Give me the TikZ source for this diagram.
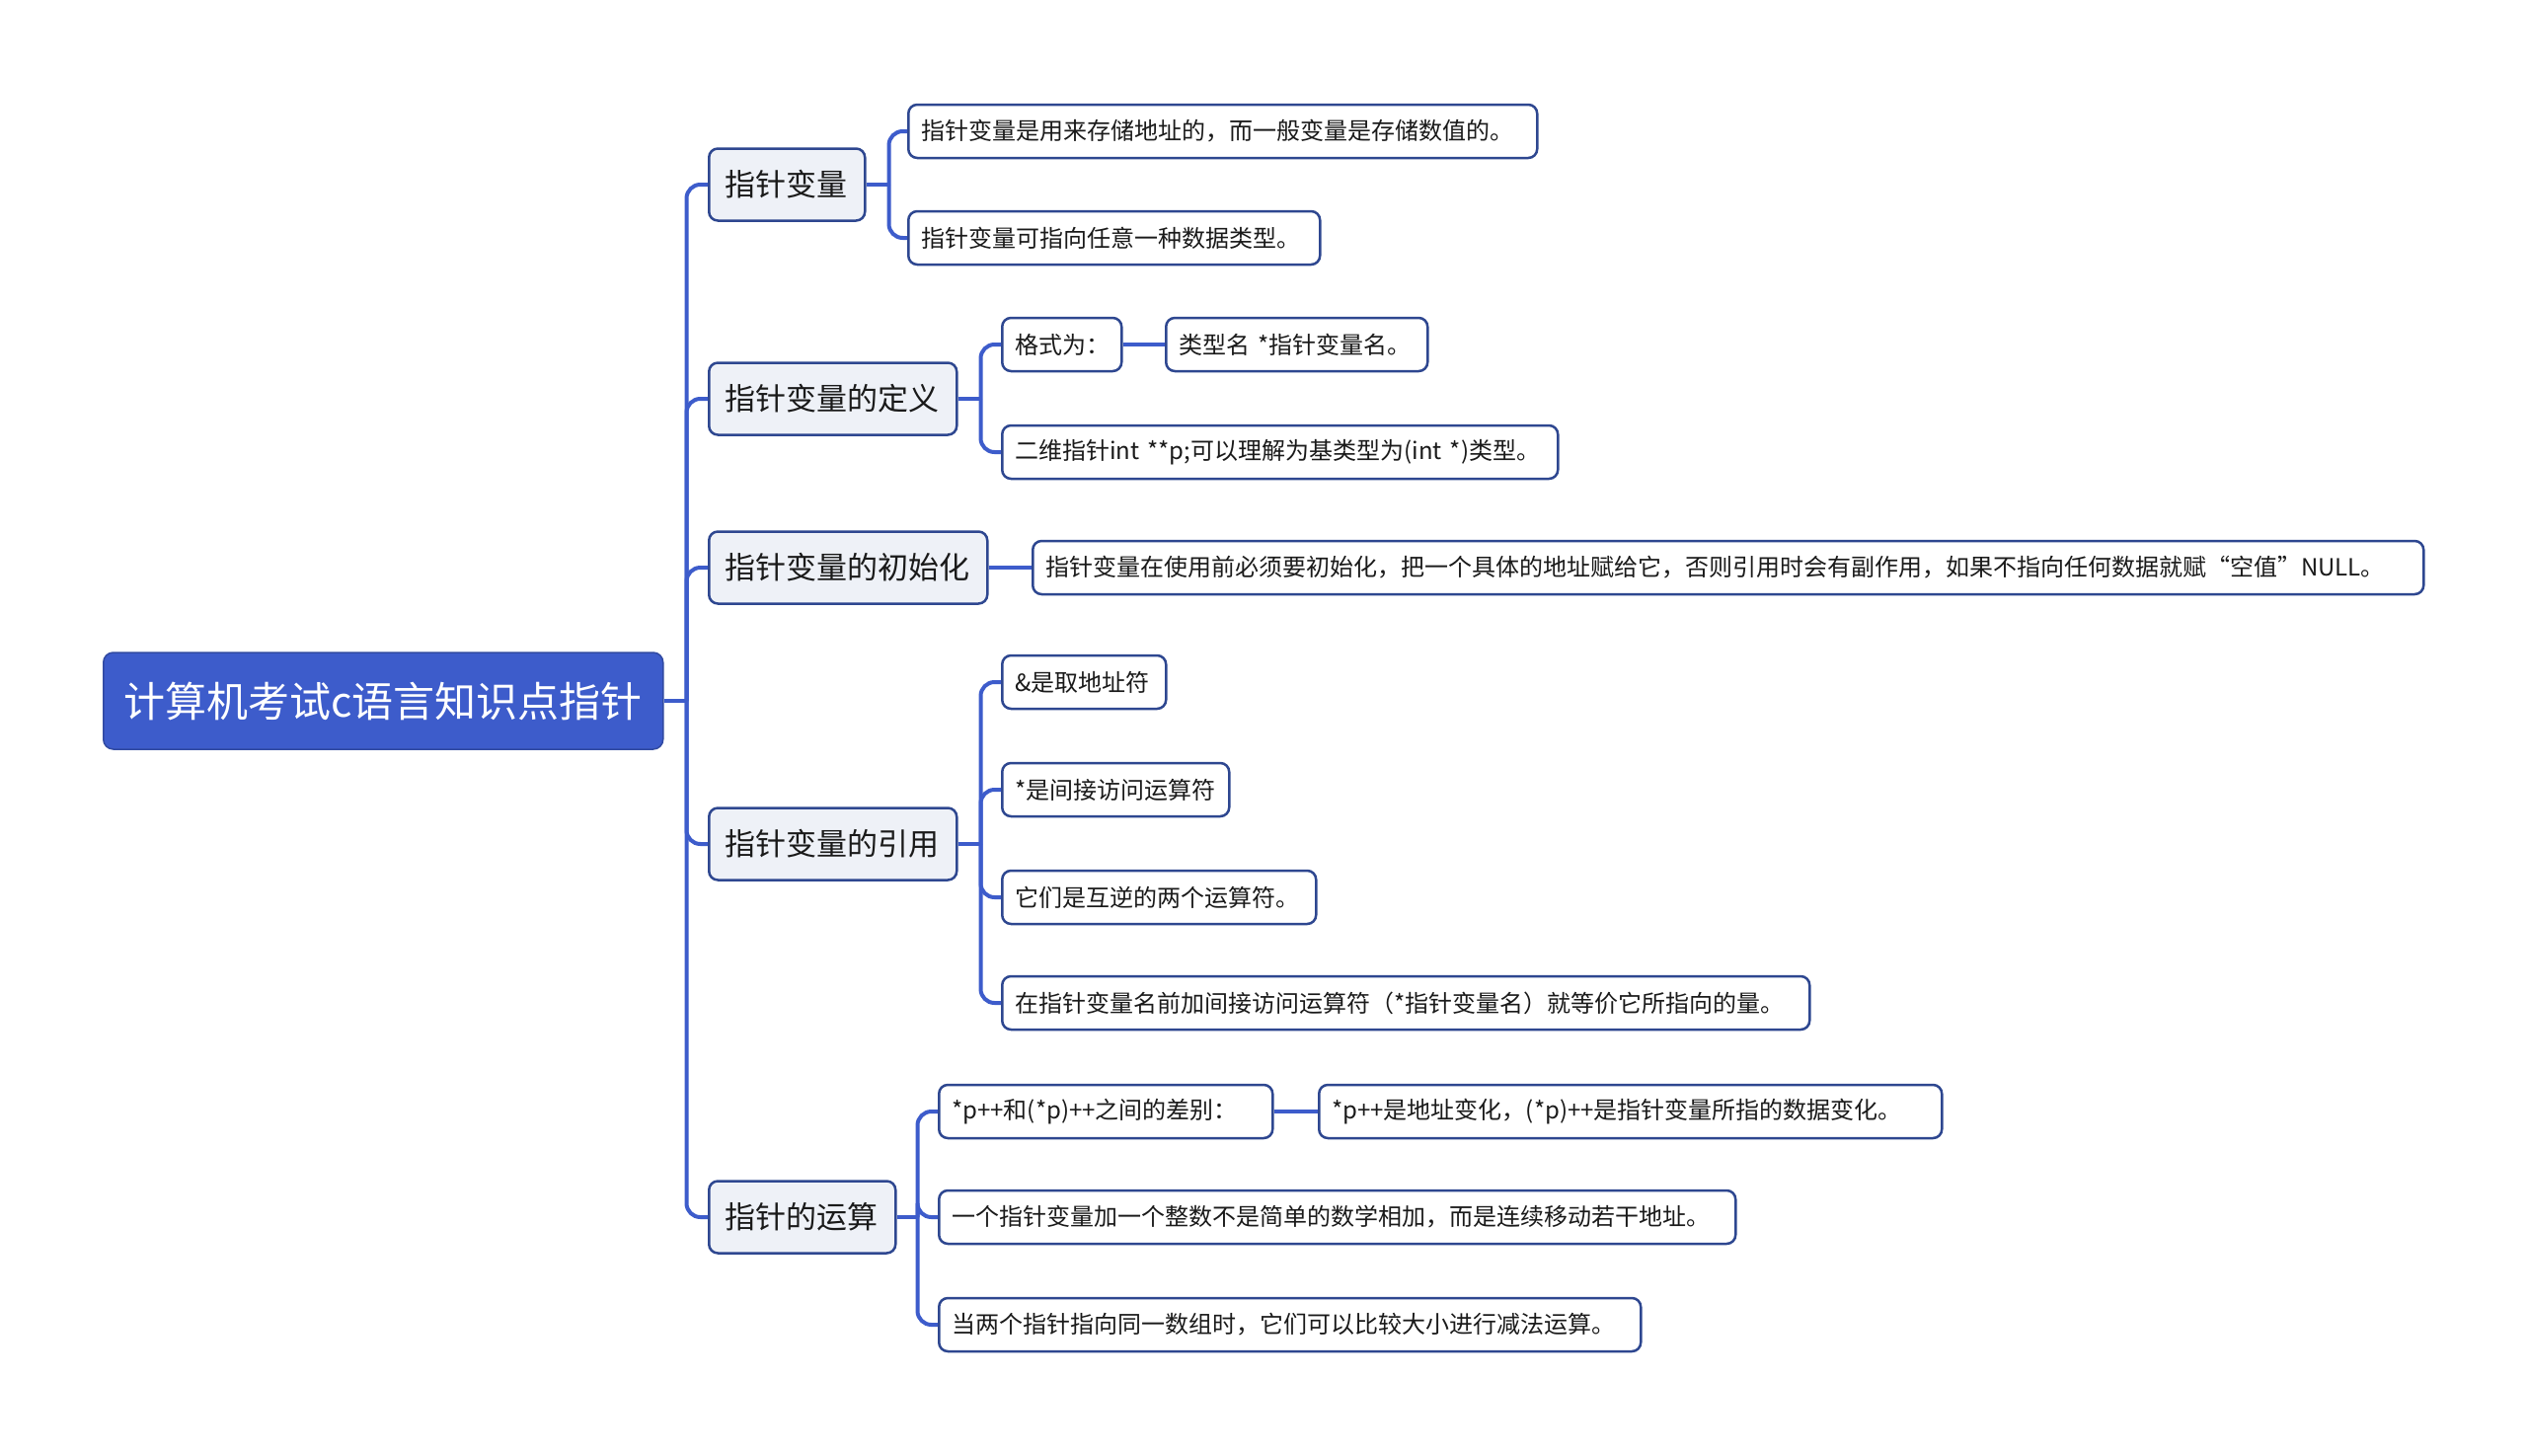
\documentclass[tikz,border=0pt]{standalone}
\usepackage{fontspec}
\setmainfont{Noto Sans CJK SC}
\usetikzlibrary{calc}
\definecolor{rootblue}{HTML}{3D5CCB}
\definecolor{linkblue}{HTML}{3D5CCB}
\definecolor{navy}{HTML}{2E4790}
\definecolor{lvfill}{HTML}{EEF1F7}
\definecolor{ink}{HTML}{1A1A1A}
\begin{document}
\begin{tikzpicture}[x=1pt,y=-1pt,
  rootnode/.style={fill=rootblue, draw=rootblue!80!black, line width=1.5pt, rounded corners=10pt,
    text=white, font=\fontsize{42}{48}\selectfont, minimum height=98pt, anchor=west, inner xsep=18pt},
  lone/.style={draw=navy, fill=lvfill, line width=2.5pt, rounded corners=9pt, text=ink,
    font=\fontsize{31}{36}\selectfont, minimum height=73pt, anchor=west, inner xsep=16pt, align=left},
  ltwo/.style={draw=navy, fill=white, line width=2.5pt, rounded corners=9pt, text=ink,
    font=\fontsize{24}{28}\selectfont, minimum height=54pt, anchor=west, inner xsep=13pt, align=left},
  link/.style={draw=linkblue, line width=4pt, rounded corners=14pt}
]
\fill[white] (0,0) rectangle (2560,1475);
\useasboundingbox (0,0) rectangle (2560,1475);

% root
\node[rootnode, minimum width=567pt] (root) at (104,710) {计算机考试c语言知识点指针};

% level 1
\node[lone, text width=126pt] (A) at (717,187) {指针变量};
\node[lone, text width=219pt] (B) at (717,404) {指针变量的定义};
\node[lone, text width=250pt] (C) at (717,575) {指针变量的初始化};
\node[lone, text width=219pt] (D) at (717,855) {指针变量的引用};
\node[lone, text width=157pt] (E) at (717,1233) {指针的运算};

% level 2
\node[ltwo, text width=611pt] (a1) at (919,133) {指针变量是用来存储地址的，而一般变量是存储数值的。};
\node[ltwo, text width=391pt] (a2) at (919,241) {指针变量可指向任意一种数据类型。};
\node[ltwo, text width=95pt] (b1) at (1014,349) {格式为：};
\node[ltwo, text width=239pt] (b1x) at (1180,349) {类型名 *指针变量名。};
\node[ltwo, text width=537pt] (b2) at (1014,458) {二维指针int **p;可以理解为基类型为(int *)类型。};
\node[ltwo, text width=1383pt] (c1) at (1045,575) {指针变量在使用前必须要初始化，把一个具体的地址赋给它，否则引用时会有副作用，如果不指向任何数据就赋“空值”NULL。};
\node[ltwo, text width=140pt] (d1) at (1014,691) {\&是取地址符};
\node[ltwo, text width=204pt] (d2) at (1014,800) {*是间接访问运算符};
\node[ltwo, text width=292pt] (d3) at (1014,909) {它们是互逆的两个运算符。};
\node[ltwo, text width=792pt] (d4) at (1014,1016) {在指针变量名前加间接访问运算符（*指针变量名）就等价它所指向的量。};
\node[ltwo, text width=312pt] (e1) at (950,1126) {*p++和(*p)++之间的差别：};
\node[ltwo, text width=605pt] (e1x) at (1335,1126) {*p++是地址变化，(*p)++是指针变量所指的数据变化。};
\node[ltwo, text width=781pt] (e2) at (950,1233) {一个指针变量加一个整数不是简单的数学相加，而是连续移动若干地址。};
\node[ltwo, text width=685pt] (e3) at (950,1342) {当两个指针指向同一数组时，它们可以比较大小进行减法运算。};

% junctions
\coordinate (jr) at ($(root.east)+(23pt,0)$);
\coordinate (jA) at ($(A.east)+(23pt,0)$);
\coordinate (jB) at ($(B.east)+(23pt,0)$);
\coordinate (jD) at ($(D.east)+(23pt,0)$);
\coordinate (jE) at ($(E.east)+(21pt,0)$);

\draw[link] (root.east) -- (jr);
\foreach \c in {A,B,C,D,E} \draw[link] (jr) |- (\c.west);
\draw[link] (A.east) -- (jA);
\foreach \c in {a1,a2} \draw[link] (jA) |- (\c.west);
\draw[link] (B.east) -- (jB);
\foreach \c in {b1,b2} \draw[link] (jB) |- (\c.west);
\draw[link] (b1.east) -- (b1x.west);
\draw[link] (C.east) -- (c1.west);
\draw[link] (D.east) -- (jD);
\foreach \c in {d1,d2,d3,d4} \draw[link] (jD) |- (\c.west);
\draw[link] (E.east) -- (jE);
\foreach \c in {e1,e2,e3} \draw[link] (jE) |- (\c.west);
\draw[link] (e1.east) -- (e1x.west);
\end{tikzpicture}
\end{document}
